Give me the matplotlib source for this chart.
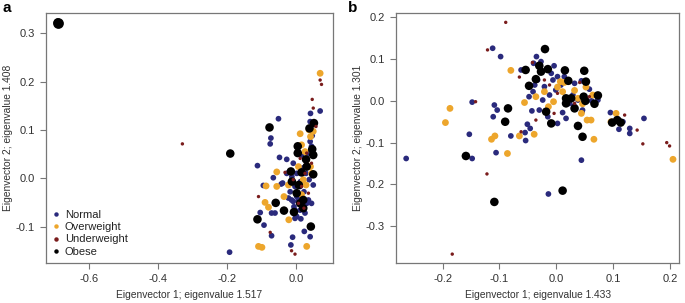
import matplotlib
matplotlib.use("Agg")
import matplotlib.pyplot as plt
from matplotlib.lines import Line2D
import numpy as np

plt.rcParams['font.family'] = ['Liberation Sans', 'DejaVu Sans']

# panel a: eigenvector 1 vs eigenvector 2 (eigenvalues 1.517 / 1.408)
a_normal_x = [-0.193, -0.112, -0.051, -0.073, -0.075, -0.104, -0.093, -0.071, -0.095, -0.066,
              -0.048, -0.027, -0.071, -0.061, -0.043, -0.039, -0.017, -0.013, -0.006, -0.003,
              -0.010, -0.015, 0.014, 0.024, 0.041, 0.045, 0.070, 0.042, 0.047, 0.041,
              -0.008, 0.002, -0.003, 0.012, 0.016, 0.029, 0.038, 0.036, 0.045, 0.041,
              0.016, 0.007, 0.002, -0.008, -0.022, -0.012, -0.027, 0.023, 0.031, 0.026,
              0.012, 0.036, 0.050, 0.002, -0.003, 0.013, 0.019]
a_normal_y = [-0.153, 0.026, 0.123, 0.083, 0.071, -0.071, -0.097, -0.119, -0.015, 0.001,
              0.043, 0.039, -0.072, -0.072, -0.012, -0.010, -0.028, -0.045, -0.059, -0.083,
              -0.122, -0.138, -0.084, -0.110, -0.121, -0.052, 0.139, 0.134, 0.088, 0.117,
              0.031, 0.010, -0.017, -0.017, -0.038, 0.010, -0.003, 0.052, 0.066, 0.076,
              0.048, -0.045, -0.038, -0.048, -0.041, 0.003, 0.010, -0.028, -0.052, -0.072,
              -0.066, -0.045, -0.014, -0.079, -0.066, -0.007, 0.021]
a_over_x = [0.070, 0.012, 0.050, 0.038, 0.042, -0.056, -0.056, -0.087, -0.090, -0.080,
            -0.035, -0.022, -0.021, -0.109, -0.099, 0.031, 0.016, 0.026, 0.031, 0.042,
            0.021, 0.029, 0.007, 0.045, 0.016]
a_over_y = [0.217, 0.092, 0.097, 0.100, 0.086, 0.013, -0.017, -0.016, -0.050, -0.060,
            -0.038, -0.014, -0.086, -0.141, -0.143, -0.141, 0.069, 0.055, 0.038, 0.024,
            -0.003, -0.014, 0.024, 0.010, -0.034]
a_under_x = [-0.330, 0.070, 0.074, 0.047, 0.050, 0.058, -0.109, -0.075, -0.003, -0.013,
             -0.032, -0.008, 0.026, 0.045, 0.016, 0.036, 0.007, 0.031, 0.012, 0.023]
a_under_y = [0.071, 0.203, 0.194, 0.163, 0.145, 0.107, -0.038, -0.112, -0.157, -0.150,
             0.012, -0.003, 0.010, 0.031, -0.017, -0.031, -0.052, 0.052, 0.041, -0.062]
a_obese_x = [-0.692, -0.191, -0.077, -0.112, -0.059, -0.035, -0.006, 0.005, 0.005, -0.015,
             -0.012, 0.002, 0.012, 0.021, 0.039, 0.052, 0.047, 0.050, 0.050, 0.043,
             0.016, 0.031, 0.021, 0.008, 0.029]
a_obese_y = [0.322, 0.051, 0.105, -0.085, -0.051, -0.067, -0.070, 0.066, 0.052, 0.014,
             -0.007, -0.031, -0.052, -0.062, 0.103, 0.114, 0.060, 0.048, 0.008, -0.100,
             0.012, 0.024, -0.045, -0.014, 0.039]

# panel b: eigenvector 1 vs eigenvector 2 (eigenvalues 1.433 / 1.301)
b_normal_x = [-0.264, -0.112, -0.098, -0.148, -0.153, -0.148, -0.109, -0.104, -0.111, -0.106,
              -0.080, -0.055, -0.046, -0.051, -0.054, -0.043, -0.048, -0.041, -0.038, -0.033,
              -0.040, -0.035, -0.027, -0.062, -0.004, -0.009, 0.002, 0.008, -0.001, 0.014,
              0.032, 0.044, 0.058, 0.073, 0.062, 0.029, 0.038, 0.023, -0.012, -0.021,
              -0.015, 0.002, 0.011, 0.017, 0.045, 0.031, 0.044, -0.014, 0.095, 0.110,
              0.117, 0.129, 0.129, 0.154, -0.006, -0.024, -0.030, 0.046]
b_normal_y = [-0.138, 0.126, 0.106, -0.003, -0.080, -0.138, -0.010, -0.022, -0.038, -0.124,
              -0.084, -0.076, -0.066, -0.056, -0.095, -0.024, 0.010, 0.022, 0.038, 0.050,
              0.090, 0.106, 0.094, 0.074, 0.084, 0.066, 0.058, 0.038, 0.026, 0.058,
              0.042, 0.048, 0.028, 0.002, 0.000, 0.014, 0.002, -0.006, 0.014, 0.034,
              -0.038, -0.054, -0.028, -0.042, -0.026, -0.012, -0.142, -0.223, -0.028, -0.068,
              -0.050, -0.066, -0.078, -0.042, 0.050, 0.002, -0.022, -0.022]
b_over_x = [-0.080, -0.187, -0.195, -0.108, -0.114, -0.086, -0.065, -0.039, -0.056, -0.021,
            -0.014, 0.007, 0.014, 0.032, 0.052, 0.064, 0.044, 0.054, 0.061, 0.066,
            0.046, 0.096, 0.105, 0.205, -0.005, 0.002, 0.011, 0.038, -0.036]
b_over_y = [0.073, -0.018, -0.052, -0.084, -0.092, -0.126, -0.084, -0.080, -0.004, 0.022,
            -0.014, 0.046, 0.044, 0.025, 0.033, 0.014, -0.030, -0.046, -0.046, -0.092,
            -0.007, -0.050, -0.030, -0.140, -0.002, 0.033, 0.022, 0.006, 0.010]
b_under_x = [-0.089, -0.121, -0.065, -0.042, -0.142, -0.062, -0.036, -0.122, -0.004, 0.041,
             0.120, 0.142, 0.152, 0.194, 0.199, -0.183, -0.012, 0.002, 0.032, -0.021, 0.058]
b_under_y = [0.188, 0.122, 0.057, 0.092, -0.002, -0.074, -0.046, -0.175, -0.030, 0.044,
             -0.034, -0.070, -0.103, -0.100, -0.108, -0.367, 0.038, 0.018, -0.006, 0.050, 0.010]
b_obese_x = [-0.020, -0.054, -0.030, -0.036, -0.048, -0.027, -0.015, 0.015, 0.049, 0.021,
             0.017, 0.026, 0.017, 0.032, 0.048, 0.051, 0.067, 0.073, -0.018, -0.009,
             0.038, 0.046, -0.085, -0.090, 0.098, 0.107, 0.113, -0.159, -0.109, 0.011, 0.052]
b_obese_y = [0.124, 0.074, 0.084, 0.052, 0.036, 0.070, 0.076, 0.073, 0.072, 0.048,
             0.006, 0.006, -0.006, -0.018, 0.010, 0.000, -0.007, 0.013, -0.026, -0.054,
             -0.060, -0.086, -0.018, -0.050, -0.052, -0.046, -0.052, -0.132, -0.242, -0.215, 0.046]

labels = ['Normal', 'Overweight', 'Underweight', 'Obese']
colors = {'Normal': '#2a2a7c', 'Overweight': '#eda62c', 'Underweight': '#7a1c1c', 'Obese': '#000000'}
sizes = {'Normal': 17, 'Overweight': 24, 'Underweight': 6, 'Obese': 38}
edge = '#777777'

fig = plt.figure(figsize=(6.85, 3.03), dpi=100)
axa = fig.add_axes([0.0672, 0.131, 0.4185, 0.825])
axb = fig.add_axes([0.578, 0.131, 0.4136, 0.825])

def draw(ax, d):
    for name in ['Normal', 'Overweight', 'Obese', 'Underweight']:
        x, y = d[name]
        s = np.full(len(x), sizes[name], dtype=float)
        ax.scatter(x, y, s=s, c=colors[name], linewidths=0)
    for sp in ax.spines.values():
        sp.set_color(edge)
        sp.set_linewidth(0.9)
    ax.tick_params(colors='#333333', labelsize=8, length=4, width=0.8, direction='out', pad=4)
    ax.tick_params(axis='both', color=edge)

da = {'Normal': (a_normal_x, a_normal_y), 'Overweight': (a_over_x, a_over_y),
      'Underweight': (a_under_x, a_under_y), 'Obese': (a_obese_x, a_obese_y)}
db = {'Normal': (b_normal_x, b_normal_y), 'Overweight': (b_over_x, b_over_y),
      'Underweight': (b_under_x, b_under_y), 'Obese': (b_obese_x, b_obese_y)}
draw(axa, da)
draw(axb, db)

# the big obese outlier in panel a
axa.scatter([a_obese_x[0]], [a_obese_y[0]], s=60, c='black', linewidths=0)

axa.set_xlim(-0.726, 0.1065)
axa.set_ylim(-0.176, 0.341)
axa.set_xticks([-0.6, -0.4, -0.2, 0.0])
axa.set_xticklabels(['-0.6', '-0.4', '-0.2', '0.0'])
axa.set_yticks([-0.1, 0.0, 0.1, 0.2, 0.3])
axa.set_yticklabels(['-0.1', '0.0', '0.1', '0.2', '0.3'])
axa.set_xlabel('Eigenvector 1; eigenvalue 1.517', fontsize=7.4, color='#333333', labelpad=4)
axa.set_ylabel('Eigenvector 2; eigenvalue 1.408', fontsize=7.4, color='#333333', labelpad=2)

axb.set_xlim(-0.282, 0.216)
axb.set_ylim(-0.389, 0.2096)
axb.set_xticks([-0.2, -0.1, 0.0, 0.1, 0.2])
axb.set_xticklabels(['-0.2', '-0.1', '0.0', '0.1', '0.2'])
axb.set_yticks([-0.3, -0.2, -0.1, 0.0, 0.1, 0.2])
axb.set_yticklabels(['-0.3', '-0.2', '-0.1', '0.0', '0.1', '0.2'])
axb.set_xlabel('Eigenvector 1; eigenvalue 1.433', fontsize=7.4, color='#333333', labelpad=4)
axb.set_ylabel('Eigenvector 2; eigenvalue 1.301', fontsize=7.4, color='#333333', labelpad=2)

handles = [Line2D([], [], marker='o', linestyle='none', markersize=3.2,
                  markerfacecolor=colors[n], markeredgewidth=0) for n in labels]
axa.legend(handles, labels, loc='lower left', frameon=False, fontsize=8,
           handlelength=0.6, handletextpad=0.5, labelspacing=0.2,
           borderaxespad=0.3, borderpad=0.3, labelcolor='#222222')

fig.text(0.003, 0.998, 'a', fontsize=11, fontweight='bold', va='top', ha='left')
fig.text(0.508, 0.998, 'b', fontsize=11, fontweight='bold', va='top', ha='left')

fig.savefig('out.png', dpi=100)
